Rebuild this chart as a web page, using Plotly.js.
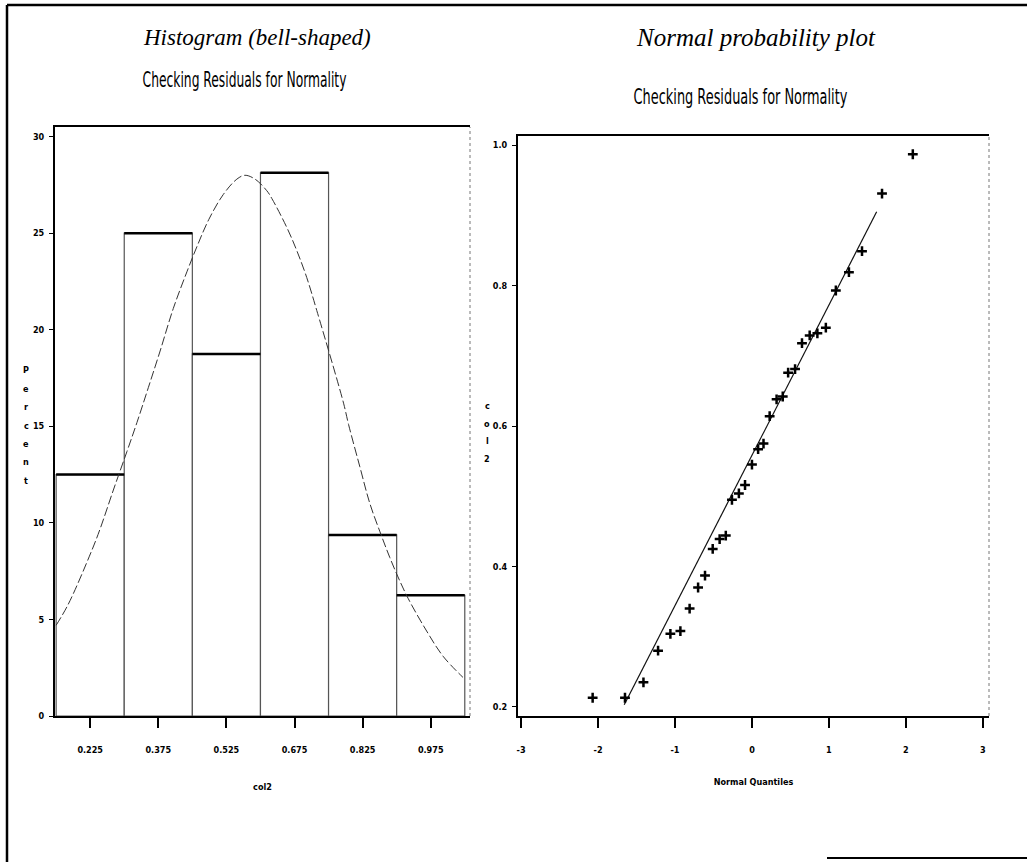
<!DOCTYPE html>
<html>
<head>
<meta charset="utf-8">
<script src="https://cdn.plot.ly/plotly-3.0.1.min.js"></script>
<style>
  html, body { margin: 0; padding: 0; background: #ffffff; }
  #chart { width: 1027px; height: 862px; }
</style>
</head>
<body>
<div id="chart"></div>
<script>
// ---------------- DATA ----------------
// Histogram of residuals (col2): bin midpoints, bin width and percent per bin
const binCenters = [0.225, 0.375, 0.525, 0.675, 0.825, 0.975];
const binWidth = 0.15;
const binPercent = [12.5, 25.0, 18.75, 28.125, 9.375, 6.25];
const histTickLabels = ['0.225', '0.375', '0.525', '0.675', '0.825', '0.975'];
const percentTicks = [0, 5, 10, 15, 20, 25, 30];

// Fitted normal curve (x = col2, y = percent)
const curveX = [0.150, 0.177, 0.229, 0.247, 0.276, 0.306, 0.328, 0.353, 0.379, 0.408,
                0.438, 0.460, 0.486, 0.518, 0.548, 0.566, 0.588, 0.614, 0.625, 0.658,
                0.680, 0.702, 0.724, 0.783, 0.794, 0.819, 0.841, 0.867, 0.885, 0.903,
                0.925, 0.966, 1.002, 1.046];
const curveY = [4.7, 5.8, 8.6, 9.7, 11.7, 13.7, 15.2, 17.0, 18.9, 21.1,
                23.0, 24.3, 25.7, 27.0, 27.8, 28.0, 27.8, 27.2, 26.8, 25.3,
                24.1, 22.7, 21.0, 16.2, 15.1, 12.9, 11.0, 9.3, 8.2, 7.2,
                6.1, 4.4, 3.1, 2.0];

// Normal probability plot: normal quantiles vs residuals (col2)
const qqQuantiles = [-2.07, -1.65, -1.41, -1.22, -1.06, -0.93, -0.81, -0.70, -0.61, -0.51,
                     -0.42, -0.34, -0.26, -0.17, -0.09, 0.00, 0.08, 0.15, 0.23, 0.32,
                     0.40, 0.47, 0.56, 0.65, 0.75, 0.85, 0.96, 1.09, 1.26, 1.43,
                     1.69, 2.09];
const qqResiduals = [0.213, 0.213, 0.235, 0.280, 0.304, 0.308, 0.340, 0.370, 0.387, 0.425,
                     0.439, 0.444, 0.495, 0.504, 0.516, 0.545, 0.567, 0.575, 0.614, 0.638,
                     0.642, 0.676, 0.681, 0.718, 0.729, 0.732, 0.740, 0.793, 0.819, 0.849,
                     0.931, 0.987];
// Reference line end points
const refLineX = [-1.66, 1.62];
const refLineY = [0.203, 0.905];

const qqXTicks = [-3, -2, -1, 0, 1, 2, 3];
const qqXTickLabels = ['-3', '-2', '-1', '0', '1', '2', '3'];
const qqYTicks = [0.2, 0.4, 0.6, 0.8, 1.0];
const qqYTickLabels = ['0.2', '0.4', '0.6', '0.8', '1.0'];

const titleLeft = 'Histogram (bell-shaped)';
const titleRight = 'Normal probability plot';
const subTitle = 'Checking Residuals for Normality';
const histXTitle = 'col2';
const histYTitle = 'Percent';
const qqXTitle = 'Normal Quantiles';
const qqYTitle = 'col2';

// ---------------- LAYOUT HELPERS ----------------
const W = 1027, H = 862;
const px = v => v / W;            // pixel x -> paper
const py = v => 1 - v / H;        // pixel y (from top) -> paper

const narrow = 'Liberation Sans Narrow, DejaVu Sans Condensed, Arial Narrow, sans-serif';
const serif = 'Liberation Serif, Times New Roman, serif';
const tickFont = { family: narrow, size: 9, color: '#000', weight: 'bold' };

// bar top edges built from the data arrays
const topX = [], topY = [];
binCenters.forEach((c, i) => {
  topX.push(c - binWidth / 2, c + binWidth / 2, null);
  topY.push(binPercent[i], binPercent[i], null);
});

const traces = [
  {
    type: 'bar', x: binCenters, y: binPercent,
    width: binCenters.map(() => binWidth),
    marker: { color: '#ffffff', line: { color: '#555555', width: 1.2 } },
    xaxis: 'x', yaxis: 'y', hoverinfo: 'x+y'
  },
  {
    type: 'scatter', mode: 'lines', x: topX, y: topY,
    line: { color: '#000000', width: 2.5 },
    xaxis: 'x', yaxis: 'y', hoverinfo: 'skip'
  },
  {
    type: 'scatter', mode: 'lines', x: curveX, y: curveY,
    line: { color: '#333333', width: 1, shape: 'spline', dash: '9px,3px' },
    xaxis: 'x', yaxis: 'y'
  },
  {
    type: 'scatter', mode: 'lines', x: refLineX, y: refLineY,
    line: { color: '#111111', width: 1.2 },
    xaxis: 'x2', yaxis: 'y2'
  },
  {
    type: 'scatter', mode: 'markers', x: qqQuantiles, y: qqResiduals,
    marker: { symbol: 'cross-thin-open', size: 7, color: '#000', line: { color: '#000', width: 2.5 } },
    xaxis: 'x2', yaxis: 'y2'
  }
];

const axisCommon = {
  showgrid: false, zeroline: false, showline: true, linecolor: '#000',
  ticks: 'outside', tickcolor: '#000', tickfont: tickFont, fixedrange: true
};

function note(text, x, y, font) {
  return { text: text, x: px(x), y: py(y), xref: 'paper', yref: 'paper', showarrow: false,
           xanchor: 'center', yanchor: 'middle', font: font };
}

const annotations = [
  note(titleLeft, 257, 38, { family: serif, size: 23, style: 'italic', color: '#000' }),
  note(titleRight, 756, 38, { family: serif, size: 25, style: 'italic', color: '#000' }),
  note(subTitle, 244, 80, { family: narrow, size: 21, color: '#000' }),
  note(subTitle, 740, 97, { family: narrow, size: 21, color: '#000' })
];
// stacked vertical axis titles
const letterFont = { family: narrow, size: 9, color: '#000', weight: 'bold' };
histYTitle.split('').forEach((ch, i) => annotations.push(note(ch, 26, 370 + 18.5 * i, letterFont)));
qqYTitle.split('').forEach((ch, i) => annotations.push(note(ch, 487, 406 + 17.5 * i, letterFont)));

const layout = {
  width: W, height: H,
  margin: { l: 0, r: 0, t: 0, b: 0, pad: 0 },
  paper_bgcolor: '#ffffff', plot_bgcolor: '#ffffff',
  showlegend: false, bargap: 0,
  xaxis: Object.assign({}, axisCommon, {
    domain: [px(55), px(470)], range: [0.1475, 1.0615], anchor: 'y',
    tickvals: binCenters, ticktext: histTickLabels,
    linewidth: 2, mirror: true, ticklen: 10, tickwidth: 2, ticklabelstandoff: 14,
    title: { text: histXTitle, font: letterFont, standoff: 30 }
  }),
  yaxis: Object.assign({}, axisCommon, {
    domain: [py(716), py(127)], range: [0, 30.5], anchor: 'x',
    tickvals: percentTicks, ticktext: percentTicks.map(String),
    linewidth: 2, ticklen: 4, tickwidth: 1, ticklabelstandoff: 3
  }),
  xaxis2: Object.assign({}, axisCommon, {
    domain: [px(518), px(989)], range: [-3.04, 3.08], anchor: 'y2',
    tickvals: qqXTicks, ticktext: qqXTickLabels,
    linewidth: 2, mirror: true, ticklen: 10, tickwidth: 2, ticklabelstandoff: 14,
    title: { text: qqXTitle, font: letterFont, standoff: 25 }
  }),
  yaxis2: Object.assign({}, axisCommon, {
    domain: [py(716), py(136)], range: [0.187, 1.013], anchor: 'x2',
    tickvals: qqYTicks, ticktext: qqYTickLabels,
    linewidth: 2, ticklen: 4, tickwidth: 1, ticklabelstandoff: 3
  }),
  annotations: annotations,
  shapes: [
    // faint dashed right edges of both plot frames
    { type: 'line', xref: 'x domain', yref: 'y domain', x0: 1, x1: 1, y0: 0, y1: 1,
      line: { color: '#777', width: 1, dash: 'dot' } },
    { type: 'line', xref: 'x2 domain', yref: 'y2 domain', x0: 1, x1: 1, y0: 0, y1: 1,
      line: { color: '#777', width: 1, dash: 'dot' } },
    // page frame
    { type: 'line', xref: 'paper', yref: 'paper', x0: px(7), x1: px(7), y0: 0, y1: py(5),
      line: { color: '#000', width: 2.5 } },
    { type: 'line', xref: 'paper', yref: 'paper', x0: px(7), x1: 1, y0: py(5), y1: py(5),
      line: { color: '#000', width: 2.5 } },
    { type: 'line', xref: 'paper', yref: 'paper', x0: px(827), x1: 1, y0: py(858), y1: py(858),
      line: { color: '#000', width: 2 } }
  ]
};

Plotly.newPlot('chart', traces, layout, { displayModeBar: false, staticPlot: true }).then(() => {
  // the reference subtitles use a very condensed face: squeeze them horizontally
  const targetWidths = [204, 214];
  let k = 0;
  document.querySelectorAll('#chart text.annotation-text').forEach(t => {
    if (t.textContent === subTitle) {
      const b = t.getBBox();
      const s = Math.min(1, targetWidths[Math.min(k, 1)] / b.width);
      const cx = b.x + b.width / 2;
      t.setAttribute('transform', `translate(${cx},0) scale(${s},1) translate(${-cx},0)`);
      k++;
    }
  });
});
</script>
</body>
</html>
